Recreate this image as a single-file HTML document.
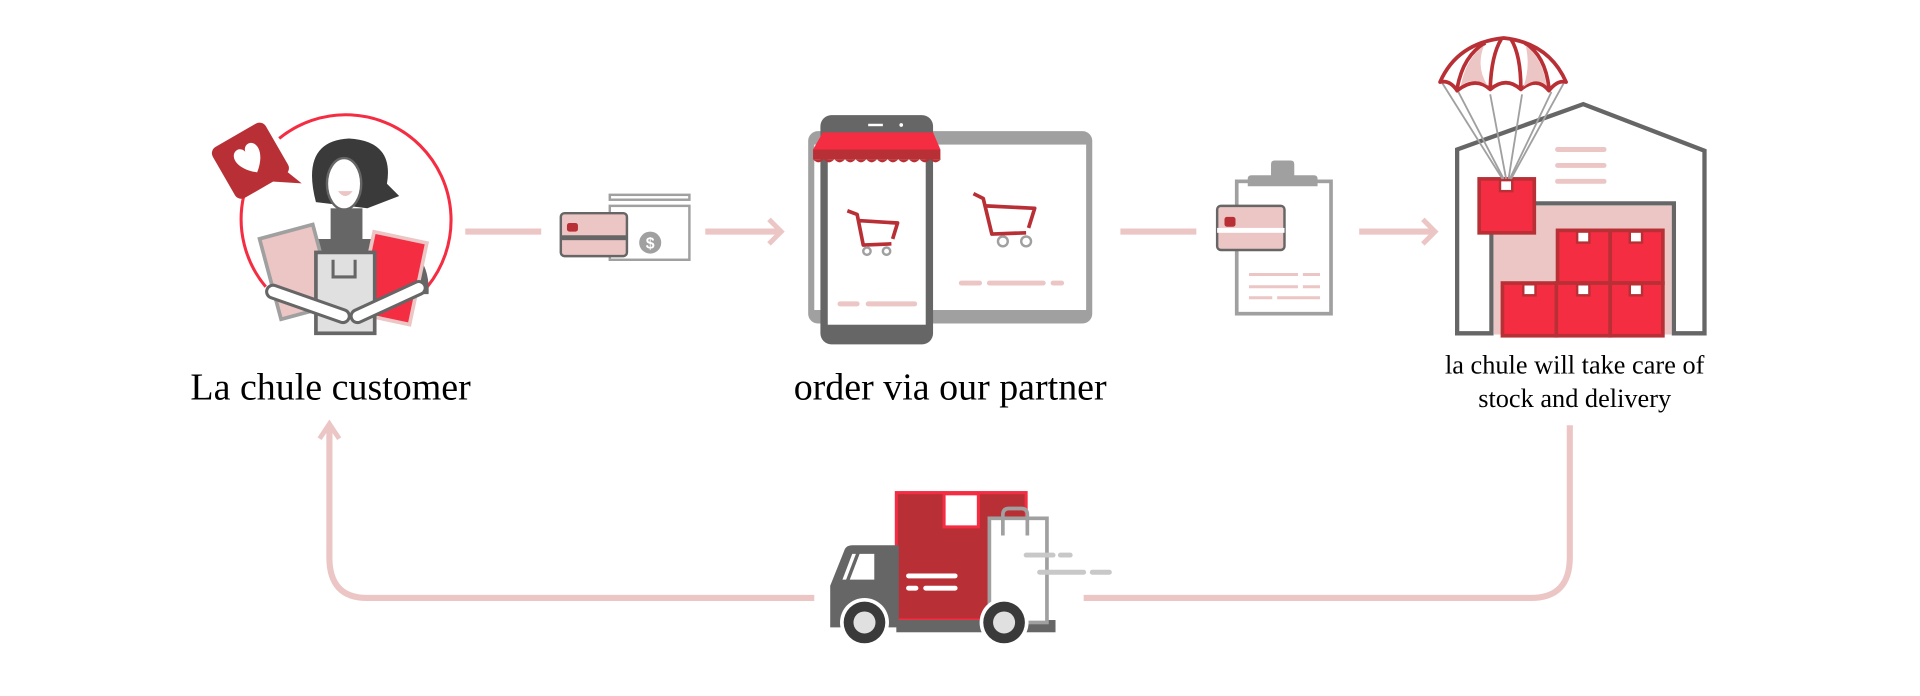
<!DOCTYPE html>
<html><head><meta charset="utf-8"><style>
html,body{margin:0;padding:0;background:#fff;width:1920px;height:696px;overflow:hidden}
svg{display:block}
text{font-family:"Liberation Serif",serif;fill:#000}
</style></head><body>
<svg width="1920" height="696" viewBox="0 0 1568 568" preserveAspectRatio="none" xmlns="http://www.w3.org/2000/svg">
<g fill="none" stroke="#ecc5c5" stroke-width="5">
<line x1="380" y1="189" x2="442" y2="189"/>
<line x1="576" y1="189" x2="638" y2="189"/>
<polyline points="628,179 638,189 628,199" stroke-width="4"/>
<line x1="915" y1="189" x2="977" y2="189"/>
<line x1="1110" y1="189" x2="1172" y2="189"/>
<polyline points="1162,179 1172,189 1162,199" stroke-width="4"/>
<path d="M1282,347 V455 Q1282,488 1250,488 H885"/>
<path d="M665,488 H300 Q269,488 269,455 V347"/>
<polyline points="261,358 269,346 277,358" stroke-width="4"/>
</g>
<!-- customer -->
<path d="M228,113 A86,86 0 0 1 349,234" fill="none" stroke="#f52d42" stroke-width="2.5"/>
<path d="M199,160 A86,86 0 0 0 217,234" fill="none" stroke="#f52d42" stroke-width="2.5"/>
<g transform="rotate(-30 205 132)">
<rect x="180" y="107" width="50" height="48" rx="6" fill="#b83035"/>
<polygon points="205,150 225,150 232,168" fill="#b83035"/>
<path d="M205,142 C190,130 193,118 200,118 C203,118 205,121 205,123 C205,121 207,118 210,118 C217,118 220,130 205,142Z" fill="#fff"/>
</g>
<path d="M222,240 Q218,200 260,195 L310,195 Q352,200 350,240 Z" fill="#666"/>
<rect x="270" y="170" width="26" height="40" fill="#666"/>
<path d="M258,165 Q245,115 285,113 Q322,115 316,150 L326,160 L300,170 Z" fill="#3a3a3a"/>
<ellipse cx="281" cy="150" rx="14" ry="21" fill="#fff" stroke="#666" stroke-width="2"/>
<path d="M276,156 Q282,164 288,156Z" fill="#ecc5c5"/>
<g transform="rotate(-15 242 222)"><rect x="220" y="188" width="45" height="68" fill="#ecc5c5" stroke="#a0a0a0" stroke-width="3"/></g>
<g transform="rotate(12 320 227)"><rect x="298" y="193" width="44" height="68" fill="#f52d42" stroke="#ecc5c5" stroke-width="3"/></g>
<rect x="258" y="206" width="48" height="66" fill="#e0e0e0" stroke="#666" stroke-width="3"/>
<path d="M272,212 v14 h18 v-14" fill="none" stroke="#666" stroke-width="2.5"/>
<path d="M223,238 L280,258 M342,235 L292,258" stroke="#666" stroke-width="13" stroke-linecap="round"/>
<path d="M223,238 L280,258 M342,235 L292,258" stroke="#fff" stroke-width="8" stroke-linecap="round"/>
<text x="270" y="326" font-size="31" text-anchor="middle">La chule customer</text>
<!-- card cash -->
<rect x="498" y="159" width="65" height="4" fill="none" stroke="#a0a0a0" stroke-width="2"/>
<rect x="498" y="168" width="65" height="44" fill="#fff" stroke="#a0a0a0" stroke-width="2"/>
<circle cx="531" cy="198" r="9" fill="#a0a0a0"/>
<text x="531" y="203" font-size="13" text-anchor="middle" style="fill:#fff;font-family:'Liberation Sans',sans-serif;font-weight:bold">$</text>
<rect x="458" y="174" width="54" height="35" rx="3" fill="#ecc5c5" stroke="#666" stroke-width="2"/>
<rect x="458" y="192" width="54" height="4" fill="#666"/>
<rect x="463" y="182" width="9" height="7" rx="2" fill="#b83035"/>
<!-- devices -->
<rect x="660" y="107" width="232" height="157" rx="8" fill="#a0a0a0"/>
<rect x="665" y="118" width="222" height="135" fill="#fff"/>
<circle cx="738" cy="113" r="2.5" fill="#fff"/>
<rect x="670" y="94" width="92" height="187" rx="9" fill="#666"/>
<rect x="676" y="110" width="80" height="155" fill="#fff"/>
<rect x="709" y="101" width="12" height="2" fill="#fff"/><circle cx="736" cy="102" r="1.5" fill="#fff"/>
<path d="M672,108 H762 L768,122 H664 Z" fill="#f52d42"/>
<rect x="664" y="122" width="104" height="8" fill="#b83035"/>
<path d="M664,130 q4.3,5 8.7,0 q4.3,5 8.7,0 q4.3,5 8.7,0 q4.3,5 8.7,0 q4.3,5 8.7,0 q4.3,5 8.7,0 q4.3,5 8.7,0 q4.3,5 8.7,0 q4.3,5 8.7,0 q4.3,5 8.7,0 q4.3,5 8.7,0 q4.3,5 8.7,0Z" fill="#b83035"/>
<g fill="none" stroke="#b83035" stroke-width="3" stroke-linejoin="round">
<path d="M692,172 L700,175 L705,200 L728,199 M701,180 L733,182 L729,195"/>
<path d="M795,158 L803,162 L810,191 L838,190 M805,168 L845,170 L840,186"/>
</g>
<g fill="none" stroke="#a0a0a0" stroke-width="2"><circle cx="708" cy="205" r="3"/><circle cx="724" cy="205" r="3"/><circle cx="819" cy="197" r="4"/><circle cx="838" cy="197" r="4"/></g>
<g stroke="#ecc5c5" stroke-width="4" stroke-linecap="round">
<line x1="686" y1="248" x2="700" y2="248"/><line x1="709" y1="248" x2="747" y2="248"/>
<line x1="785" y1="231" x2="800" y2="231"/><line x1="808" y1="231" x2="852" y2="231"/><line x1="860" y1="231" x2="867" y2="231"/>
</g>
<text x="776" y="326" font-size="31" text-anchor="middle">order via our partner</text>
<!-- clipboard -->
<rect x="1010" y="148" width="77" height="108" fill="#fff" stroke="#a0a0a0" stroke-width="3"/>
<path d="M1022,143 H1038 V134 Q1038,131 1041,131 H1054 Q1057,131 1057,134 V143 H1073 Q1076,143 1076,146 V152 H1019 V146 Q1019,143 1022,143Z" fill="#a0a0a0"/>
<rect x="994" y="168" width="55" height="36" rx="3" fill="#ecc5c5" stroke="#666" stroke-width="2"/>
<rect x="994" y="186" width="55" height="4" fill="#fff"/>
<rect x="1000" y="177" width="9" height="8" rx="2" fill="#b83035"/>
<g stroke="#ecc5c5" stroke-width="2.5"><line x1="1020" y1="224" x2="1060" y2="224"/><line x1="1064" y1="224" x2="1078" y2="224"/><line x1="1020" y1="234" x2="1060" y2="234"/><line x1="1064" y1="234" x2="1078" y2="234"/><line x1="1020" y1="243" x2="1039" y2="243"/><line x1="1043" y1="243" x2="1078" y2="243"/></g>
<!-- warehouse -->
<path d="M1190,272 V122 L1293,85 L1392,123 V272 H1367 V166 H1218 V272 Z" fill="none" stroke="#666" stroke-width="3.5"/>
<rect x="1220" y="168" width="145" height="105" fill="#ecc5c5"/>
<g stroke="#ecc5c5" stroke-width="4" stroke-linecap="round"><line x1="1272" y1="122" x2="1310" y2="122"/><line x1="1272" y1="135" x2="1310" y2="135"/><line x1="1272" y1="148" x2="1310" y2="148"/></g>
<g fill="#f52d42" stroke="#b83035" stroke-width="3">
<rect x="1272" y="188" width="43" height="43"/><rect x="1315" y="188" width="43" height="43"/>
<rect x="1227" y="231" width="44" height="43"/><rect x="1271" y="231" width="44" height="43"/><rect x="1315" y="231" width="43" height="43"/>
<rect x="1208" y="146" width="45" height="44"/>
</g>
<g fill="#fff" stroke="#b83035" stroke-width="2">
<rect x="1288" y="189" width="10" height="9"/><rect x="1331" y="189" width="10" height="9"/>
<rect x="1244" y="232" width="10" height="9"/><rect x="1288" y="232" width="10" height="9"/><rect x="1331" y="232" width="10" height="9"/>
<rect x="1225" y="147" width="10" height="9"/>
</g>
<g stroke="#a0a0a0" stroke-width="1.5"><line x1="1178" y1="68" x2="1227" y2="146"/><line x1="1191" y1="75" x2="1228" y2="146"/><line x1="1217" y1="77" x2="1230" y2="146"/><line x1="1243" y1="77" x2="1232" y2="146"/><line x1="1267" y1="75" x2="1233" y2="146"/><line x1="1277" y1="68" x2="1234" y2="146"/></g>
<path d="M1176,67 Q1190,35 1228,31 Q1265,35 1279,67 Q1272,65 1265,74 Q1255,62 1242,73 Q1230,62 1217,73 Q1205,62 1190,74 Q1184,65 1176,67Z" fill="#fff" stroke="#b83035" stroke-width="3" stroke-linejoin="round"/>
<path d="M1190,72 Q1195,45 1213,35 M1217,72 Q1218,45 1226,32 M1242,72 Q1242,45 1234,32 M1265,72 Q1262,45 1245,35" fill="none" stroke="#b83035" stroke-width="3"/>
<path d="M1193,70 Q1197,48 1212,37 Q1205,55 1215,70 Q1204,62 1193,70Z M1244,71 Q1255,62 1263,70 Q1260,48 1246,37 Q1250,55 1244,71Z" fill="#ecc5c5"/>
<text x="1286" y="305" font-size="21.5" text-anchor="middle">la chule will take care of</text>
<text x="1286" y="332" font-size="21.5" text-anchor="middle">stock and delivery</text>
<!-- truck -->
<rect x="732" y="402" width="106" height="104" fill="#b83035" stroke="#f52d42" stroke-width="2.5"/>
<rect x="771" y="403" width="28" height="27" fill="#fff" stroke="#f52d42" stroke-width="2.5"/>
<path d="M678,478 L690,448 Q692,445 696,445 H734 V512 H678 Z" fill="#666"/>
<path d="M694,473 L702,452 H714 V473 Z" fill="#fff"/>
<path d="M688,473 L696,452 H699 L691,473Z" fill="#fff"/>
<rect x="732" y="506" width="130" height="10" fill="#666"/>
<rect x="808" y="423" width="47" height="85" fill="#fff" stroke="#a0a0a0" stroke-width="3"/>
<path d="M819,437 V420 Q819,415 824,415 H834 Q839,415 839,420 V437" fill="none" stroke="#a0a0a0" stroke-width="3"/>
<g stroke-linecap="round" stroke-width="4"><line x1="742" y1="470" x2="780" y2="470" stroke="#fff"/><line x1="742" y1="480" x2="748" y2="480" stroke="#fff"/><line x1="756" y1="480" x2="780" y2="480" stroke="#fff"/>
<line x1="838" y1="453" x2="860" y2="453" stroke="#c8c8c8"/><line x1="866" y1="453" x2="874" y2="453" stroke="#c8c8c8"/><line x1="849" y1="467" x2="885" y2="467" stroke="#c8c8c8"/><line x1="892" y1="467" x2="906" y2="467" stroke="#c8c8c8"/></g>
<circle cx="706" cy="508" r="20" fill="#fff"/><circle cx="706" cy="508" r="17" fill="#3a3a3a"/><circle cx="706" cy="508" r="9" fill="#e0e0e0"/>
<circle cx="820" cy="508" r="20" fill="#fff"/><circle cx="820" cy="508" r="17" fill="#3a3a3a"/><circle cx="820" cy="508" r="9" fill="#e0e0e0"/>
</svg>
</body></html>
